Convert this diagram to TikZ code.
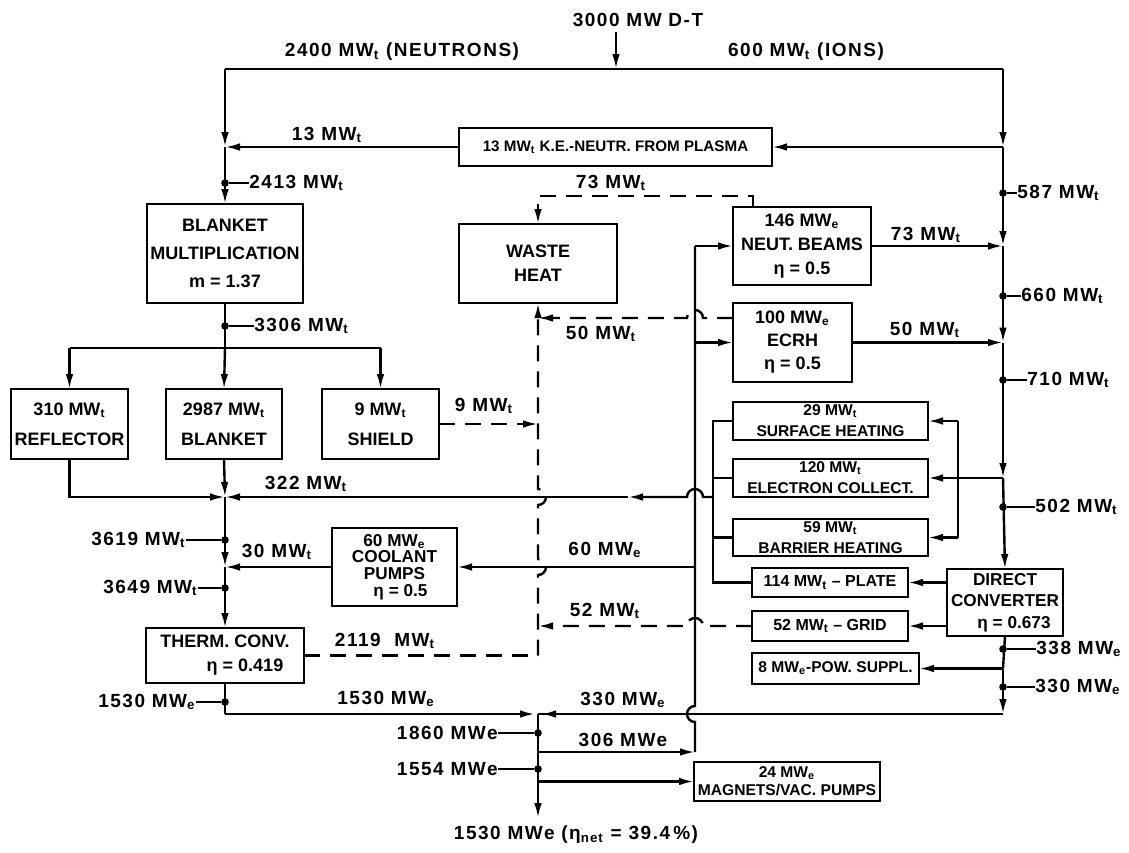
\documentclass[tikz,border=0pt]{standalone}
\usepackage{fontspec}
\setmainfont{Liberation Sans}
\newfontfamily\lblfont{Liberation Sans}[LetterSpace=8]
\usetikzlibrary{arrows.meta}
\newcommand{\st}{\textsubscript{t}}
\newcommand{\se}{\textsubscript{e}}
\newcommand{\fbig}{\lblfont\fontsize{9.5}{11}\selectfont\bfseries}
\newcommand{\fsz}[2]{\fontsize{#1}{#2}\selectfont\bfseries}
\newcommand{\mkbox}[7]{\node[#1, anchor=north west, minimum width={(#5-#3)*0.5pt}, minimum height={(#6-#4)*0.5pt}] (#2) at (#3,#4) {#7};}
\newcommand{\rgtl}[5]{\node[jd] (d#1) at (#2,#3) {}; \node[lbl,anchor=west] (l#1) at (#4,#3) {#5}; \draw[ln] (d#1) -- (l#1.west);}
\newcommand{\lftl}[5]{\node[jd] (d#1) at (#2,#3) {}; \node[lbl,anchor=east] (l#1) at (#4,#3) {#5}; \draw[ln] (d#1) -- (l#1.east);}
\begin{document}
\begin{tikzpicture}[x=0.5pt,y=-0.5pt,
  ln/.style={line width=1.2pt},
  arr/.style={-{Latex[length=7.5pt,width=3.8pt]}},
  dsh/.style={dash pattern=on 8pt off 5pt},
  bx/.style={draw,line width=1.2pt,inner sep=0pt,outer sep=0pt,align=center},
  lbl/.style={inner sep=0pt,font=\fbig},
  jd/.style={circle,fill,inner sep=0pt,minimum size=3.8pt},
]
\fill[white] (0,0) rectangle (1129,852);
\useasboundingbox (0,0) rectangle (1129,852);

% boxes
\mkbox{bx,font=\fsz{7.6}{9}}{ke}{459}{128}{772}{166}{13 MW\st{} K.E.-NEUTR. FROM PLASMA}
\mkbox{bx,font=\fsz{9}{14}}{bm}{147}{204}{303}{303}{BLANKET\\MULTIPLICATION\\m = 1.37}
\mkbox{bx,font=\fsz{9}{12}}{waste}{459}{224}{617}{303}{WASTE\\HEAT}
\mkbox{bx,font=\fsz{9}{12}}{neut}{733}{207}{871}{285}{146 MW\se\\NEUT. BEAMS\\η = 0.5}
\mkbox{bx,font=\fsz{9}{11.5}}{ecrh}{733}{303}{852}{382}{100 MW\se\\ECRH\\η = 0.5}
\mkbox{bx,font=\fsz{9}{15}}{refl}{11}{389}{128}{459}{310 MW\st\\REFLECTOR}
\mkbox{bx,font=\fsz{9}{15}}{blk}{166}{389}{282}{459}{2987 MW\st\\BLANKET}
\mkbox{bx,font=\fsz{9}{15}}{shield}{322}{389}{439}{459}{9 MW\st\\SHIELD}
\mkbox{bx,font=\fsz{7.8}{10.5}}{surf}{733}{402}{928}{440}{29 MW\st\\SURFACE HEATING}
\mkbox{bx,font=\fsz{7.8}{10.5}}{elec}{733}{459}{928}{497}{120 MW\st\\ELECTRON COLLECT.}
\mkbox{bx,font=\fsz{7.8}{10.5}}{barr}{733}{519}{928}{556}{59 MW\st\\BARRIER HEATING}
\mkbox{bx,font=\fsz{8.6}{8.4}}{pumps}{332}{528}{457}{606}{60 MW\se\\COOLANT\\PUMPS\\\hspace*{6pt}η = 0.5}
\mkbox{bx,font=\fsz{8}{10}}{plate}{752}{568}{908}{597}{114 MW\st{} – PLATE}
\mkbox{bx,font=\fsz{8}{10}}{grid}{752}{611}{908}{641}{52 MW\st{} – GRID}
\mkbox{bx,font=\fsz{8.6}{10.7}}{direct}{947}{569}{1063}{636}{DIRECT\\CONVERTER\\\hspace*{9pt}η = 0.673}
\mkbox{bx,font=\fsz{9}{12}}{therm}{146}{628}{304}{683}{THERM. CONV.\\\hspace*{20pt}η = 0.419}
\mkbox{bx,font=\fsz{7.8}{10}}{pow}{752}{653}{919}{684}{8 MW\se-POW. SUPPL.}
\mkbox{bx,font=\fsz{7.8}{9}}{mag}{694}{762}{880}{801}{24 MW\se\\MAGNETS/VAC. PUMPS}

% coordinates
\coordinate (dtop) at (616,32);
\coordinate (tm) at (616,69);
\coordinate (tl) at (225,69);
\coordinate (tr) at (1003,69);
\coordinate (jl1) at (225,147);
\coordinate (jr1) at (1003,147);
\coordinate (jbr) at (225,348);
\coordinate (brl) at (69.5,348);
\coordinate (brr) at (380.5,348);
\coordinate (jm) at (225,497);
\coordinate (rc) at (69.5,497);
\coordinate (j30) at (225,567);
\coordinate (lc) at (225,714);
\coordinate (jb) at (538,714);
\coordinate (j306) at (538,752);
\coordinate (j24) at (538,781.5);
\coordinate (bend) at (538,818);
\coordinate (jr2) at (1003,246);
\coordinate (jr3) at (1003,342.5);
\coordinate (jr4) at (1003,478);
\coordinate (jrp) at (1003,668.5);
\coordinate (rcr) at (1003,714);
\coordinate (s0) at (695,752);
\coordinate (s1) at (695,246);
\coordinate (s2) at (695,342.5);
\coordinate (s60) at (695,567);
\coordinate (c1) at (713,421);
\coordinate (c2) at (713,478);
\coordinate (c3) at (713,537.5);
\coordinate (c4) at (713,582.5);
\coordinate (c322) at (713,497);
\coordinate (a322) at (628,497);
\coordinate (v1) at (958,421);
\coordinate (v2) at (958,537.5);
\coordinate (w0) at (538,655.5);
\coordinate (w9) at (538,424);
\coordinate (w50) at (538,318);
\coordinate (w52) at (538,626);
\coordinate (e50) at (733,318);
\coordinate (n73) at (753,207);
\coordinate (n73b) at (753,196);
\coordinate (w73) at (538,196);

% solid connectors
\draw[ln,arr] (dtop) -- (tm);
\draw[ln] (tl) -- (tr);
\draw[ln,arr] (tl) -- (jl1);
\draw[ln,arr] (tr) -- (jr1);
\draw[ln,arr] (jr1) -- (ke.east);
\draw[ln,arr] (ke.west) -- (jl1);
\draw[ln,arr] (jl1) -- (bm.north);
\draw[ln] (bm.south) -- (jbr);
\draw[ln] (brl) -- (brr);
\draw[ln,arr] (brl) -- (refl.north);
\draw[ln,arr] (jbr) -- (blk.north);
\draw[ln,arr] (brr) -- (shield.north);
\draw[ln,arr] (refl.south) -- (rc) -- (jm);
\draw[ln,arr] (blk.south) -- (jm);
\draw[ln,arr] (c322) -- (703,497) arc(0:-180:8) -- (a322);
\draw[ln,arr] (a322) -- (jm);
\draw[ln,arr] (jm) -- (j30);
\draw[ln,arr] (pumps.west) -- (j30);
\draw[ln,arr] (j30) -- (therm.north);
\draw[ln] (therm.south) -- (lc);
\draw[ln,arr,shorten >=1.5pt] (lc) -- (jb);
\draw[ln,arr,shorten >=1.5pt] (rcr) -- (jb);
\draw[ln] (jb) -- (j24);
\draw[ln,arr] (j24) -- (bend);
\draw[ln,arr] (j24) -- (mag.west);
\draw[ln,arr] (j306) -- (s0);
\draw[ln] (s0) -- (695,722) arc(90:270:8) -- (s1);
\draw[ln,arr] (s1) -- (neut.west);
\draw[ln,arr] (s2) -- (ecrh.west);
\draw[ln,arr] (s60) -- (pumps.east);
\draw[ln,arr] (neut.east) -- (jr2);
\draw[ln,arr] (ecrh.east) -- (jr3);
\draw[ln,arr] (jr1) -- (jr2);
\draw[ln,arr] (jr2) -- (jr3);
\draw[ln,arr] (jr3) -- (jr4);
\draw[ln,arr] (jr4) -- (direct.north);
\draw[ln,arr] (jr4) -- (elec.east);
\draw[ln] (v1) -- (v2);
\draw[ln,arr] (v1) -- (surf.east);
\draw[ln,arr] (v2) -- (barr.east);
\draw[ln] (surf.west) -- (c1) -- (c4) -- (plate.west);
\draw[ln] (elec.west) -- (c2);
\draw[ln] (barr.west) -- (c3);
\draw[ln,arr] (direct.west |- plate.east) -- (plate.east);
\draw[ln,arr] (direct.west |- grid.east) -- (grid.east);
\draw[ln] (direct.south) -- (jrp);
\draw[ln,arr] (jrp) -- (pow.east);
\draw[ln,arr] (jrp) -- (rcr);
\draw[ln] (rcr) -- (jb);

% dashed connectors
\draw[ln,dsh] (therm.east) -- (w0);
\draw[ln,dsh,arr] (w0) -- (538,575) arc(90:-90:8) -- (538,505) arc(90:-90:8) -- (waste.south);
\draw[ln,dsh,arr] (shield.east) -- (w9);
\draw[ln,dsh,arr] (e50) -- (703,318) arc(0:-180:8) -- (w50);
\draw[ln,dsh,arr] (grid.west) -- (703,626) arc(0:-180:8) -- (w52);
\draw[ln,dsh,arr] (n73) -- (n73b) -- (w73) -- (waste.north);

% labels
\node[lbl] (t3000) at (638,20) {3000 MW D-T};
\node[lbl] (t2400) at (402,52) {2400 MW\st{} (NEUTRONS)};
\node[lbl] (t600) at (806,52) {600 MW\st{} (IONS)};
\node[lbl] (t13) at (327,135) {13 MW\st};
\node[lbl] (t73a) at (611,183) {73 MW\st};
\node[lbl] (t73b) at (926,235) {73 MW\st};
\node[lbl] (t50a) at (601,334) {50 MW\st};
\node[lbl] (t50b) at (925,330) {50 MW\st};
\node[lbl] (t9) at (484,406) {9 MW\st};
\node[lbl] (t322) at (306,484) {322 MW\st};
\node[lbl] (t30) at (277,552) {30 MW\st};
\node[lbl] (t60) at (605,550) {60 MW\se};
\node[lbl] (t52) at (605,611) {52 MW\st};
\node[lbl] (t2119) at (385,641) {2119\ \ MW\st};
\node[lbl] (t1530c) at (386,699) {1530 MW\se};
\node[lbl] (t330) at (623,700) {330 MW\se};
\node[lbl] (t306) at (623,740) {306 MWe};
\node[lbl] (tbot) at (576,835) {1530 MWe (η\textsubscript{net} = 39.4\,\%)};

% junction dots with values
\rgtl{587}{1003}{193}{1017}{587 MW\st}
\rgtl{660}{1003}{296}{1021}{660 MW\st}
\rgtl{710}{1003}{380}{1027}{710 MW\st}
\rgtl{502}{1003}{507}{1035}{502 MW\st}
\rgtl{338}{1003}{649}{1036}{338 MW\se}
\rgtl{330r}{1003}{687}{1035}{330 MW\se}
\rgtl{2413}{225}{183}{249}{2413 MW\st}
\rgtl{3306}{225}{326}{254}{3306 MW\st}
\lftl{3619}{225}{540}{186}{3619 MW\st}
\lftl{3649}{225}{588}{198}{3649 MW\st}
\lftl{1530l}{225}{702}{196}{1530 MW\se}
\lftl{1860}{538}{733}{498}{1860 MWe}
\lftl{1554}{538}{769}{498}{1554 MWe}
\end{tikzpicture}
\end{document}
